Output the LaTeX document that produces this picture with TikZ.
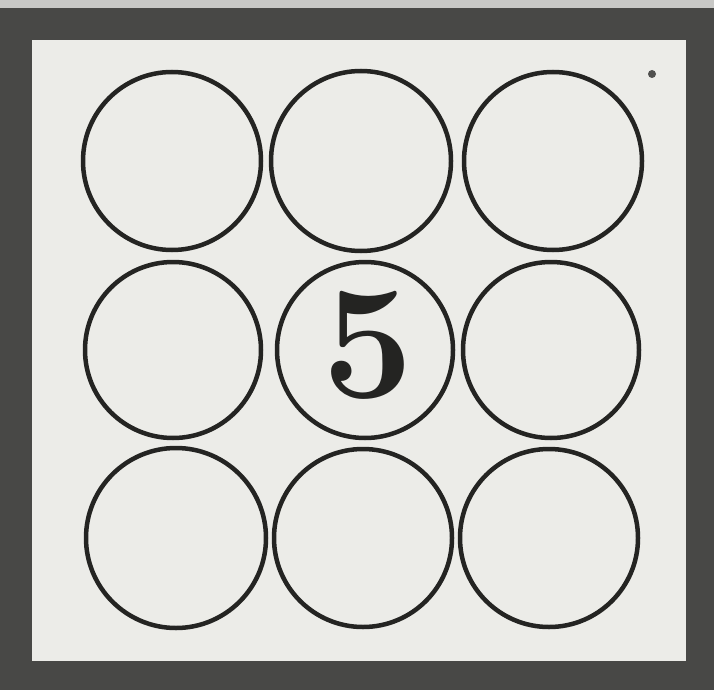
\documentclass[tikz,border=0pt]{standalone}
\definecolor{frame}{RGB}{72,72,70}
\definecolor{topstrip}{RGB}{200,200,198}
\definecolor{paper}{RGB}{236,236,232}
\definecolor{ink}{RGB}{36,36,34}
\tikzset{
  ring/.style={circle, draw=ink, line width=4.5pt, fill=none, inner sep=0pt},
  digit/.style={text=ink, inner sep=0pt, font=\fontsize{162}{162}\selectfont\bfseries}
}
\begin{document}
\begin{tikzpicture}[x=1pt,y=-1pt]
\useasboundingbox (0,0) rectangle (714,690);
\fill[frame] (0,0) rectangle (714,690);
\fill[topstrip] (0,0) rectangle (714,8);
\fill[paper] (32,40) rectangle (686,661);
% row 1
\node[ring, minimum size=178pt] (c1) at (172,161) {};
\node[ring, minimum size=180pt] (c2) at (361,161) {};
\node[ring, minimum size=178pt] (c3) at (553,161) {};
% row 2
\node[ring, minimum size=176pt] (c4) at (173,350) {};
\node[ring, minimum size=176pt] (c5) at (365,350) {};
\node[ring, minimum size=176pt] (c6) at (551,350) {};
% row 3
\node[ring, minimum size=180pt] (c7) at (176,538) {};
\node[ring, minimum size=178pt] (c8) at (363,538) {};
\node[ring, minimum size=178pt] (c9) at (549,538) {};
\node[digit] (five) at (368,345) {5};
\fill[ink!80] (652,74) circle (4pt);
\end{tikzpicture}
\end{document}
